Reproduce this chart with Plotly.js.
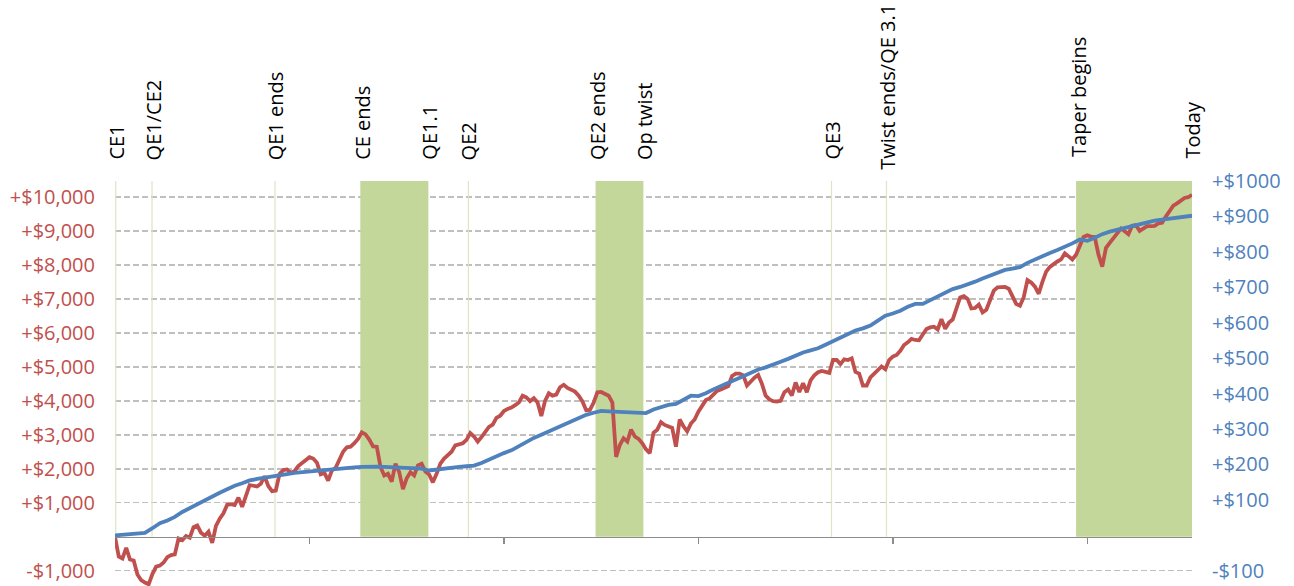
<!DOCTYPE html>
<html>
<head>
<meta charset="utf-8">
<script src="https://cdn.plot.ly/plotly-3.0.1.min.js"></script>
<style>
html,body{margin:0;padding:0;background:#ffffff;}
#chart{width:1294px;height:586px;}
</style>
</head>
<body>
<div id="chart"></div>
<script>
// Red series (left axis), weekly values
const redValues = [
  0, -580, -640, -330, -670, -700, -1110, -1280, -1350, -1400,
  -1100, -880, -850, -760, -600, -540, -520, -50, -100, 20,
  -30, 280, 330, 120, 30, 150, -180, 320, 530, 690,
  940, 960, 930, 1150, 880, 1190, 1520, 1500, 1480, 1560,
  1780, 1490, 1340, 1360, 1850, 1960, 1980, 1880, 1930, 2080,
  2170, 2250, 2340, 2300, 2180, 1840, 1880, 1650, 1950, 2030,
  2300, 2500, 2630, 2650, 2750, 2880, 3070, 3010, 2860, 2660,
  2650, 2050, 1800, 1850, 1620, 2150, 1900, 1400, 1720, 1900,
  1800, 2100, 2150, 1920, 1830, 1600, 1850, 2150, 2300, 2390,
  2500, 2690, 2730, 2750, 2850, 3050, 2950, 2800, 2930, 3100,
  3230, 3300, 3500, 3560, 3700, 3760, 3800, 3870, 3950, 4150,
  4100, 3990, 4080, 3950, 3550, 4000, 4220, 4150, 4180, 4400,
  4470, 4380, 4320, 4270, 4150, 3980, 3720, 3730, 3950, 4250,
  4260, 4200, 4150, 3950, 2350, 2700, 2900, 2800, 3150, 2950,
  2880, 2750, 2570, 2460, 3060, 3150, 3370, 3290, 3250, 3200,
  2650, 3450, 3250, 3100, 3330, 3450, 3680, 3860, 4020, 4070,
  4180, 4290, 4330, 4370, 4430, 4730, 4800, 4800, 4750, 4450,
  4580, 4680, 4760, 4500, 4150, 4040, 3990, 3980, 4000, 4250,
  4330, 4160, 4540, 4260, 4520, 4250, 4600, 4750, 4840, 4880,
  4850, 4820, 5200, 5200, 5080, 5220, 5200, 5250, 4850, 4800,
  4450, 4450, 4690, 4810, 4920, 5010, 4930, 5200, 5300, 5350,
  5470, 5640, 5720, 5820, 5790, 5780, 5950, 6110, 6160, 6180,
  6100, 6400, 6120, 6300, 6390, 6750, 7040, 7080, 7000, 6720,
  6730, 6830, 6600, 6680, 6950, 7240, 7340, 7350, 7350, 7300,
  7080, 6850, 6800, 7050, 7550, 7480, 7360, 7150, 7500, 7800,
  7940, 8030, 8100, 8160, 8340, 8250, 8160, 8300, 8550, 8820,
  8870, 8830, 8820, 8300, 7950, 8500, 8650, 8780, 8950, 9070,
  8990, 8900, 9150, 9170, 9000, 9080, 9140, 9140, 9150, 9220,
  9240, 9420, 9600, 9740, 9810, 9900, 9970, 9990, 10060
];

// Blue series (right axis), every two weeks
const blueValues = [
  0, 2, 3, 6, 7, 20, 34, 42, 52, 66,
  77, 88, 100, 112, 120, 130, 140, 147, 155, 159,
  163, 167, 170, 173, 176, 178, 180, 183, 186, 188,
  190, 191, 192, 193, 194, 194, 193, 192, 191, 190,
  189, 188, 183, 186, 188, 190, 193, 195, 197, 204,
  214, 223, 232, 240, 252, 265, 275, 284, 293, 302,
  312, 322, 330, 340, 346, 351, 350, 349, 348, 345,
  345, 345, 355, 362, 368, 371, 384, 394, 393, 401,
  412, 422, 430, 440, 449, 460, 468, 474, 481, 490,
  498, 508, 516, 522, 528, 538, 548, 558, 569, 578,
  584, 592, 606, 620, 626, 634, 645, 653, 653, 664,
  675, 685, 695, 701, 708, 716, 725, 733, 742, 749,
  753, 757, 769, 779, 788, 797, 805, 814, 824, 835,
  831, 840, 850, 857, 862, 867, 874, 879, 884, 888,
  891, 894, 896, 899, 902
];

const redWeeks = redValues.map((_, i) => i);
const blueWeeks = blueValues.map((_, i) => i * 2);

const leftTickVals = [-1000, 1000, 2000, 3000, 4000, 5000, 6000, 7000, 8000, 9000, 10000];
const leftTickText = ['-$1,000', '+$1,000', '+$2,000', '+$3,000', '+$4,000', '+$5,000',
                      '+$6,000', '+$7,000', '+$8,000', '+$9,000', '+$10,000'];
const rightTickVals = [-100, 100, 200, 300, 400, 500, 600, 700, 800, 900, 1000];
const rightTickText = ['-$100', '+$100', '+$200', '+$300', '+$400', '+$500',
                       '+$600', '+$700', '+$800', '+$900', '+$1000'];

const yearTickWeeks = [52, 104, 156, 208, 260];

const eventLabels = ['CE1', 'QE1/CE2', 'QE1 ends', 'CE ends', 'QE1.1', 'QE2', 'QE2 ends',
                     'Op twist', 'QE3', 'Twist ends/QE 3.1', 'Taper begins', 'Today'];
const eventLabelWeeks = [0.3, 10.4, 43, 66, 84, 94.5, 129, 141.6, 191.6, 206.4, 257.5, 288];
const eventLabelLift = [19, 19, 19, 19, 19, 19, 19, 19, 19, 9, 22, 20];
const eventLineWeeks = [0.2, 9.9, 42.8, 94.5, 191.6, 206.3];
const shadedSpans = [[65.6, 83.8], [128.5, 141.3], [257, 288]];

const leftRange = [-1450, 10468];
const rightRange = [-143, 1000];

const RED = '#C0504D';
const BLUE = '#4F81BD';
const FONT = 'Open Sans, Lato, sans-serif';

const shapes = [];
shadedSpans.forEach(s => {
  shapes.push({
    type: 'rect', xref: 'x', yref: 'y', x0: s[0], x1: s[1], y0: 0, y1: leftRange[1],
    fillcolor: '#C4D79B', line: {width: 0}, layer: 'between'
  });
});
eventLineWeeks.forEach(w => {
  shapes.push({
    type: 'line', xref: 'x', yref: 'y', x0: w, x1: w, y0: 0, y1: leftRange[1],
    line: {color: '#DCE6C4', width: 1.2}, layer: 'between'
  });
});

const annotations = eventLabels.map((t, i) => ({
  text: t, x: eventLabelWeeks[i], xref: 'x', y: 1, yref: 'paper',
  xanchor: 'center', yanchor: 'bottom', yshift: eventLabelLift[i], textangle: -90,
  showarrow: false, font: {family: FONT, size: 20, color: '#000000'}
}));

const traces = [
  {x: redWeeks, y: redValues, type: 'scatter', mode: 'lines', yaxis: 'y',
   line: {color: RED, width: 3.8}, hoverinfo: 'skip'},
  {x: blueWeeks, y: blueValues, type: 'scatter', mode: 'lines', yaxis: 'y2',
   line: {color: BLUE, width: 3.8}, hoverinfo: 'skip'}
];

const layout = {
  width: 1294, height: 586,
  margin: {l: 115, r: 102, t: 181, b: 0},
  paper_bgcolor: '#ffffff', plot_bgcolor: '#ffffff',
  showlegend: false,
  xaxis: {
    range: [0, 288], anchor: 'free',
    position: (0 - leftRange[0]) / (leftRange[1] - leftRange[0]),
    showline: true, linecolor: '#8C8C8C', linewidth: 1.5,
    ticks: 'outside', ticklen: 6, tickwidth: 1.5, tickcolor: '#8C8C8C',
    tickmode: 'array', tickvals: yearTickWeeks, showticklabels: false,
    showgrid: false, zeroline: false, fixedrange: true
  },
  yaxis: {
    range: leftRange, tickmode: 'array', tickvals: leftTickVals, ticktext: leftTickText,
    tickfont: {family: FONT, size: 20, color: RED},
    showgrid: true, gridcolor: '#BFBFBF', gridwidth: 1.5, griddash: '6px,3px',
    zeroline: false, showline: false, ticks: '', ticklabelstandoff: 19, fixedrange: true
  },
  yaxis2: {
    range: rightRange, overlaying: 'y', side: 'right',
    tickmode: 'array', tickvals: rightTickVals, ticktext: rightTickText,
    tickfont: {family: FONT, size: 20, color: BLUE},
    showgrid: false, zeroline: false, showline: false, ticks: '', ticklabelstandoff: 19,
    fixedrange: true
  },
  shapes: shapes,
  annotations: annotations
};

Plotly.newPlot('chart', traces, layout, {displayModeBar: false, staticPlot: true});
</script>
</body>
</html>
